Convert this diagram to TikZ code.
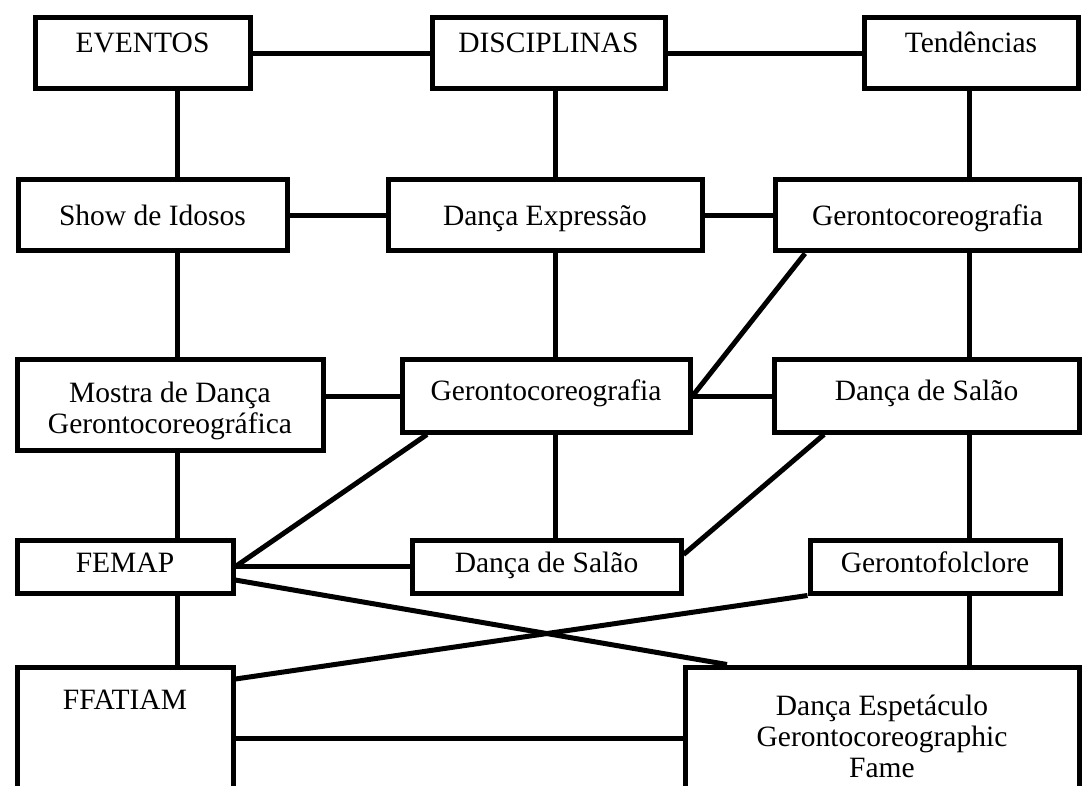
\documentclass[tikz,border=0pt]{standalone}
\usepackage{fontspec}
\setmainfont{Liberation Serif}
\usetikzlibrary{positioning}

\begin{document}
\begin{tikzpicture}[x = 1pt, y = -1pt,
    box/.style = {draw, line width = 5pt, inner sep = 0pt, anchor = north west, align = center, font = \fontsize{29.5pt}{31pt}\selectfont},
    link/.style = {line width = 5pt}]
    \useasboundingbox (0,0) rectangle (1082,786);
    \coordinate (colA) at (177,0);
    \coordinate (colB) at (555,0);
    \coordinate (colC) at (969,0);

    % top row
    \node[box, minimum width = 215pt, minimum height = 71pt, text height = 35pt, text depth = 36pt] (ev) at (32.5,15.5) {EVENTOS};
    \node[box, minimum width = 233pt, minimum height = 71pt, text height = 35pt, text depth = 36pt] (dis) at (429.5,15.5) {DISCIPLINAS};
    \node[box, minimum width = 214pt, minimum height = 71pt, text height = 35pt, text depth = 36pt] (ten) at (861.5,15.5) {Tendências};

    \node[box, minimum width = 269pt, minimum height = 71pt, text height = 46pt, text depth = 25pt] (show) at (15.5,177.5) {Show de Idosos};
    \node[box, minimum width = 314pt, minimum height = 71pt, text height = 46pt, text depth = 25pt] (expr) at (385.5,177.5) {Dança Expressão};
    \node[box, minimum width = 305pt, minimum height = 71pt, text height = 46pt, text depth = 25pt] (geroA) at (772.5,177.5) {Gerontocoreografia};

    \node[box, minimum width = 306pt, minimum height = 90pt, text height = 73pt, text depth = 17pt] (mostra) at (14.5,357.5) {Mostra de Dança\\Gerontocoreográfica};
    \node[box, minimum width = 288pt, minimum height = 72pt, text height = 40pt, text depth = 32pt] (geroB) at (399.5,357.5) {Gerontocoreografia};
    \node[box, minimum width = 305pt, minimum height = 72pt, text height = 40pt, text depth = 32pt] (salaoA) at (771.5,357.5) {Dança de Salão};

    \node[box, minimum width = 216pt, minimum height = 53pt, text height = 32pt, text depth = 21pt] (femap) at (14.5,537.5) {FEMAP};
    \node[box, minimum width = 269pt, minimum height = 53pt, text height = 32pt, text depth = 21pt] (salaoB) at (409.5,537.5) {Dança de Salão};
    \node[box, minimum width = 250pt, minimum height = 53pt, text height = 32pt, text depth = 21pt] (folc) at (807.5,537.5) {Gerontofolclore};

    % bottom row, cut by the page
    \node[box, minimum width = 216pt, minimum height = 143pt, text height = 42pt, text depth = 101pt] (ffa) at (14.5,664.5) {FFATIAM};
    \node[box, minimum width = 394pt, minimum height = 143pt, text height = 110pt, text depth = 33pt] (esp) at (682.5,664.5) {Dança Espetáculo\\Gerontocoreographic\\Fame};

    % verticals
    \draw[link] (ev.south -| colA) -- (show.north -| colA);
    \draw[link] (show.south -| colA) -- (mostra.north -| colA);
    \draw[link] (mostra.south -| colA) -- (femap.north -| colA);
    \draw[link] (femap.south -| colA) -- (ffa.north -| colA);
    \draw[link] (dis.south -| colB) -- (expr.north -| colB);
    \draw[link] (expr.south -| colB) -- (geroB.north -| colB);
    \draw[link] (geroB.south -| colB) -- (salaoB.north -| colB);
    \draw[link] (ten.south -| colC) -- (geroA.north -| colC);
    \draw[link] (geroA.south -| colC) -- (salaoA.north -| colC);
    \draw[link] (salaoA.south -| colC) -- (folc.north -| colC);
    \draw[link] (folc.south -| colC) -- (esp.north -| colC);

    % horizontals
    \draw[link] (ev.east) -- (dis.west);
    \draw[link] (dis.east) -- (ten.west);
    \draw[link] (show.east) -- (expr.west);
    \draw[link] (expr.east) -- (geroA.west);
    \draw[link] (mostra.east |- geroB.west) -- (geroB.west);
    \draw[link] (geroB.east) -- (salaoA.west);
    \draw[link] (femap.east) -- (salaoB.west);
    \draw[link] (ffa.east) -- (esp.west);

    % diagonals
    \draw[link] ([xshift = 32.5pt]geroA.south west) -- (geroB.east);
    \draw[link] ([xshift = 27.5pt]geroB.south west) -- (femap.east);
    \draw[link] ([xshift = 52.5pt]salaoA.south west) -- (salaoB.5);
    \draw[link] (femap.-7) -- ([xshift = 44.5pt]esp.north west);
    \draw[link] (folc.south west) -- ([yshift = -14.5pt]ffa.north east);
\end{tikzpicture}
\end{document}
